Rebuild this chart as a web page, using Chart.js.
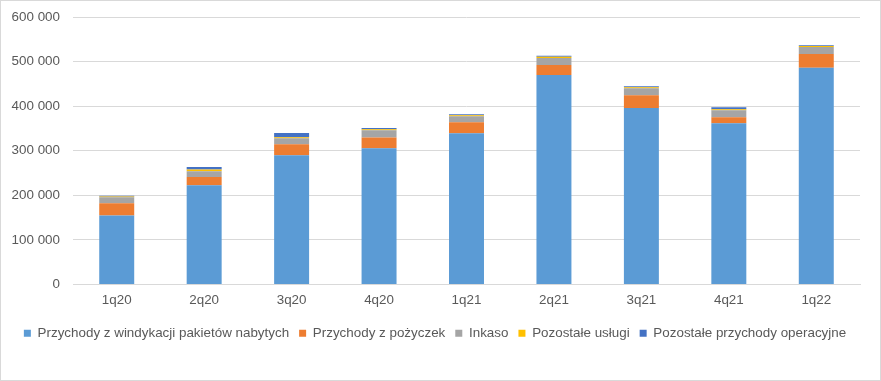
<!DOCTYPE html>
<html>
<head>
<meta charset="utf-8">
<script src="https://cdn.jsdelivr.net/npm/chart.js@4/dist/chart.umd.min.js"></script>
<style>
html,body{margin:0;padding:0;background:#fff;}
#wrap{position:absolute;left:0;top:0;width:879px;height:379px;border:1px solid #d9d9d9;}
canvas{display:block;}
</style>
</head>
<body>
<div id="wrap"><canvas id="c" width="879" height="379"></canvas></div>
<script>
const categories = ["1q20","2q20","3q20","4q20","1q21","2q21","3q21","4q21","1q22"];
const windykacja = [155000, 222500, 290000, 305600, 339300, 469700, 396000, 361800, 486000];
const pozyczki   = [27000, 18700, 24700, 24000, 24700, 22500, 28500, 13500, 30800];
const inkaso     = [13500, 12800, 13500, 16500, 13500, 15700, 15700, 15700, 15700];
const pozostaleUslugi = [2000, 3800, 2200, 2200, 2200, 3000, 2200, 2200, 2200];
const pozostalePrzychody = [1500, 6000, 9700, 3000, 2200, 2200, 2200, 4500, 2200];
const seriesNames = ["Przychody z windykacji pakietów nabytych","Przychody z pożyczek","Inkaso","Pozostałe usługi","Pozostałe przychody operacyjne"];
const colors = ["#5B9BD5","#ED7D31","#A5A5A5","#FFC000","#4472C4"];
const series = [windykacja, pozyczki, inkaso, pozostaleUslugi, pozostalePrzychody];

const fmt = v => String(v).replace(/\B(?=(\d{3})+(?!\d))/g, " ");
const font = { family: "Liberation Sans, Arial", size: 13.4 };

new Chart(document.getElementById("c"), {
  type: "bar",
  data: {
    labels: categories,
    datasets: series.map((d, i) => ({
      label: seriesNames[i],
      data: d,
      backgroundColor: colors[i],
      borderWidth: 0,
      categoryPercentage: 1.0,
      barPercentage: 0.4
    }))
  },
  options: {
    responsive: false,
    animation: false,
    layout: { padding: { left: 9, right: 20, top: 16, bottom: 30 } },
    scales: {
      x: {
        stacked: true,
        grid: { display: false, drawTicks: false },
        border: { color: "#d9d9d9" },
        ticks: { color: "#595959", font: font, padding: 8 }
      },
      y: {
        stacked: true,
        min: 0, max: 600000,
        grid: { color: "#d9d9d9", drawTicks: false },
        border: { display: false },
        afterFit: s => { s.width = 63; s.paddingTop = 0; s.paddingBottom = 0; },
        ticks: { stepSize: 100000, color: "#595959", font: font, padding: 13, callback: v => fmt(v) }
      }
    },
    plugins: {
      legend: {
        position: "bottom",
        labels: { boxWidth: 7, boxHeight: 7, color: "#595959", font: font, padding: 10 }
      },
      tooltip: { enabled: false }
    }
  }
});
</script>
</body>
</html>
